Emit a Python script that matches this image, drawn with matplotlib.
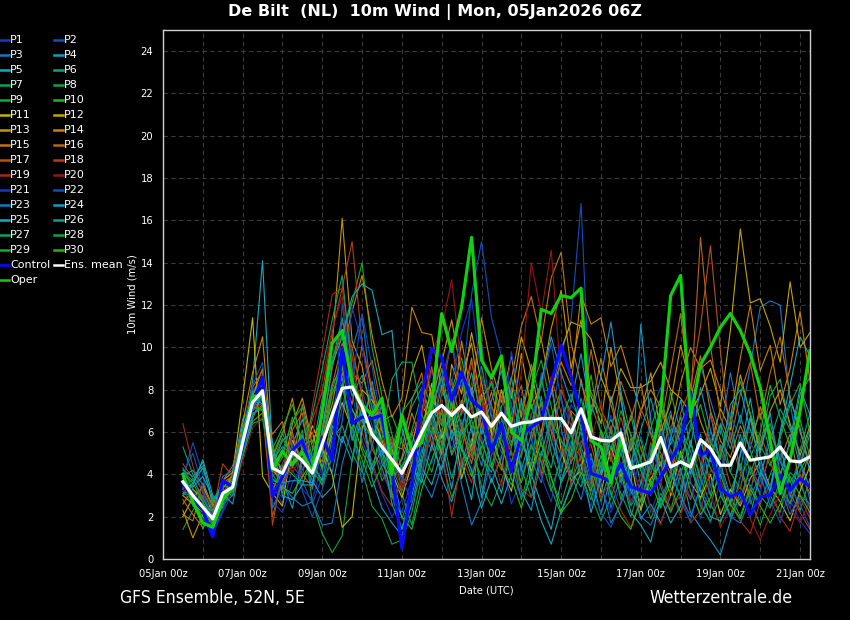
import matplotlib
matplotlib.use("Agg")
import matplotlib.pyplot as plt
from matplotlib.lines import Line2D
from matplotlib import font_manager as fm
import numpy as np

# ---------------- data ----------------
hours = list(range(12, 391, 6))  # hours after 05Jan 00z (64 steps)
tick_hours = list(range(0, 385, 48))
tick_labels = ["05Jan 00z", "07Jan 00z", "09Jan 00z", "11Jan 00z", "13Jan 00z",
               "15Jan 00z", "17Jan 00z", "19Jan 00z", "21Jan 00z"]

P1 = [3.2,2.6,2.0,1.0,2.8,3.0,5.9,7.6, 7.2,3.5,2.6,4.2,3.3,2.8,4.5,6.1, 9.2,7.8,5.6,4.4,3.1,2.0,2.8,4.6, 6.8,8.9,7.4,5.2,6.6,4.0,5.8,3.7, 4.9,2.6,3.8,5.5,7.1,6.0,4.3,5.6, 3.7,2.5,4.4,6.8,5.1,3.0,4.9,2.2, 3.5,5.8,4.1,2.9,4.4,6.0,3.3,1.9, 2.7,4.3,3.1,5.2,3.6,2.4,3.9,2.0]
P2 = [3.8,5.5,4.0,1.6,2.5,3.7,6.3,8.0, 8.4,3.9,4.5,5.8,3.7,2.6,3.9,5.2, 7.1,9.6,8.0,6.3,4.9,5.8,3.6,4.2, 5.5,7.8,9.4,7.1,5.9,8.3,10.2,6.6, 5.0,7.4,3.9,5.1,8.8,6.2,9.7,11.3, 16.8,6.4,4.7,3.0,5.8,2.6,3.6,6.9, 8.1,5.0,3.4,4.9,2.7,1.7,3.8,6.0, 4.4,2.6,3.7,6.1,4.8,3.0,5.2,4.3]
P3 = [3.4,3.0,2.6,2.1,3.3,3.1,5.0,7.1, 8.0,4.6,3.1,4.8,5.6,3.3,5.2,4.1, 6.5,9.9,11.5,7.6,5.0,4.3,1.9,3.3, 5.8,6.4,4.9,6.9,8.5,6.0,4.4,7.2, 6.3,8.1,5.4,4.7,3.6,5.9,7.7,4.8, 6.0,3.7,5.3,2.4,3.9,5.5,4.2,3.0, 5.6,7.0,4.5,6.3,9.2,7.5,5.9,8.8, 6.4,9.1,11.9,12.2,12.0,7.4,4.6,2.8]
P4 = [3.9,4.2,3.5,2.3,2.7,4.1,6.6,7.3, 7.7,4.9,3.7,2.4,4.8,3.7,2.9,3.4, 5.8,4.6,6.9,3.8,2.4,1.7,1.1,2.6, 4.7,5.9,3.8,2.7,4.4,6.3,2.9,5.6, 8.0,6.5,3.2,2.3,4.9,6.8,3.6,4.6, 5.3,4.0,2.1,3.9,6.2,3.5,1.9,2.6, 1.7,3.0,4.3,2.2,1.5,0.9,0.2,1.8, 3.2,2.0,4.1,3.4,5.6,2.9,4.7,3.3]
P5 = [3.1,3.6,4.3,2.8,2.4,3.5,5.6,8.4, 14.1,5.0,4.2,5.4,6.6,4.5,3.7,6.3, 5.5,7.1,6.0,8.4,6.1,3.9,4.7,6.0, 4.3,3.5,5.1,7.4,4.6,2.8,6.4,4.5, 3.1,5.3,7.6,4.0,2.6,1.4,3.7,5.0, 8.5,6.1,4.0,7.7,5.5,3.2,2.4,4.8, 6.6,4.2,2.9,5.5,3.7,6.9,4.4,2.5, 5.0,7.6,4.8,3.1,6.0,8.2,10.5,9.6]
P6 = [4.1,3.7,4.6,2.5,3.1,3.8,4.9,6.9, 7.1,4.4,5.6,6.0,4.2,5.1,7.6,9.3, 11.4,8.7,6.5,7.9,5.3,3.5,5.8,7.2, 8.1,6.7,9.0,6.3,7.5,5.1,6.8,8.4, 7.0,5.5,6.9,9.2,7.3,5.6,4.1,6.4, 5.2,7.3,6.0,4.7,7.9,5.8,3.5,4.9, 7.2,5.4,6.7,4.0,5.9,3.4,5.0,6.5, 4.2,6.6,5.3,7.7,8.5,6.2,4.4,5.9]
P7 = [5.3,4.0,3.2,2.2,2.9,3.4,5.4,7.0, 7.6,4.0,3.3,5.0,5.9,4.2,3.5,5.7, 6.3,5.0,4.1,6.2,4.8,3.0,1.4,3.4, 5.2,4.1,6.0,3.8,5.6,7.4,5.0,3.6, 4.8,6.7,4.3,2.9,5.1,3.8,2.6,4.2, 3.4,5.0,2.7,4.4,3.1,2.0,3.6,5.2, 2.5,3.9,6.2,5.1,3.3,2.4,4.5,3.0, 2.0,3.5,2.6,4.0,5.2,3.7,2.3,3.8]
P8 = [1.4,2.3,3.0,2.6,3.5,3.2,5.3,7.2, 7.8,4.6,5.7,4.8,6.1,2.7,1.2,0.3, 1.1,4.7,7.4,5.5,3.7,4.4,3.1,1.6, 3.9,6.2,4.7,2.9,4.2,5.7,3.4,2.5, 3.7,5.1,2.8,4.6,6.1,3.3,2.1,3.6, 4.9,3.0,1.8,2.9,4.3,2.5,3.3,1.9, 3.1,2.3,4.0,5.6,3.8,2.6,1.7,3.2, 4.5,2.8,1.6,3.0,2.2,4.1,3.6,2.4]
P9 = [4.3,3.3,2.7,1.7,3.0,3.6,5.8,7.9, 8.2,4.1,4.8,6.7,5.5,3.9,6.8,9.5, 10.6,12.1,14.0,10.0,7.7,5.9,4.2,6.1, 7.8,6.0,8.2,6.6,5.1,7.6,9.1,6.8, 5.7,4.6,6.2,8.0,9.4,7.2,5.3,3.9, 6.3,8.7,5.9,3.8,5.0,6.8,4.6,3.5, 5.3,7.9,6.0,4.4,2.8,4.9,6.3,4.1, 3.3,5.7,6.9,5.0,3.9,5.5,6.6,4.8]
P10 = [3.5,2.7,2.0,1.5,2.6,3.0,4.8,6.5, 6.9,3.2,4.4,4.0,3.5,4.8,6.0,8.3, 9.0,6.6,5.1,4.0,6.5,6.8,5.5,4.7, 6.3,7.9,6.5,8.0,9.5,7.1,5.5,4.3, 6.4,5.0,3.6,5.4,4.0,6.6,8.0,6.9, 5.0,3.5,6.1,4.9,2.8,4.1,5.7,3.4, 4.6,3.4,2.2,3.8,5.5,4.3,3.5,2.0, 3.9,4.8,6.0,8.2,6.7,5.3,7.8,8.6]
P11 = [2.0,2.9,3.4,2.4,3.7,4.1,7.6,11.4, 3.9,3.1,2.5,5.6,4.6,6.3,5.2,4.0, 1.5,2.0,6.2,7.0,5.6,4.1,2.9,4.5, 5.9,8.3,5.7,7.0,3.8,5.4,7.8,5.9, 4.4,3.2,5.7,4.1,6.0,8.4,5.1,3.7, 4.2,6.5,3.1,5.3,3.9,4.6,2.3,3.8, 4.5,3.0,5.1,3.6,2.9,4.0,2.1,3.3, 2.5,3.8,4.6,3.4,2.7,1.8,3.2,4.4]
P12 = [3.0,2.6,2.2,1.6,3.4,3.8,5.2,7.3, 8.7,4.2,3.7,4.6,5.1,6.0,4.3,5.9, 7.4,6.1,8.0,7.5,6.8,5.2,3.9,5.4, 7.3,6.4,5.0,9.2,7.8,10.7,8.3,6.0, 9.4,7.6,10.5,8.9,6.5,7.8,9.9,11.2, 11.0,10.4,8.6,7.4,9.0,8.1,8.1,8.4, 9.3,8.0,7.6,6.9,7.8,9.0,7.2,10.8, 15.6,12.1,12.3,11.0,9.3,13.1,10.0,10.7]
P13 = [2.3,1.0,2.1,2.7,3.6,3.9,5.7,7.7, 9.0,5.2,4.0,6.4,7.6,5.5,6.7,10.1, 16.1,10.3,9.1,6.6,7.2,4.9,6.7,8.8, 10.1,7.5,9.3,11.3,8.7,10.2,7.0,5.6, 8.0,6.2,9.7,7.1,8.3,10.9,12.7,9.0, 11.3,7.7,6.4,10.0,7.5,5.1,6.9,8.8, 6.0,7.4,10.1,8.2,6.5,5.3,7.1,6.1, 8.7,6.8,5.1,7.0,8.0,6.4,4.9,6.3]
P14 = [2.6,3.3,2.9,1.9,2.8,3.6,6.4,8.8, 10.5,4.8,5.9,7.6,5.0,4.4,5.8,7.3, 9.8,11.7,13.4,10.6,8.4,6.7,7.6,11.9, 10.7,10.6,8.0,6.8,10.3,7.7,11.4,9.0, 7.4,9.6,6.7,8.8,10.4,7.9,9.3,8.2, 12.5,11.1,11.4,9.1,10.1,8.5,7.0,8.0, 7.2,6.0,8.3,10.0,9.0,9.4,8.0,6.6, 9.5,12.0,8.9,10.1,7.3,9.0,11.7,8.4]
P15 = [2.1,1.8,3.6,2.5,3.3,4.0,5.1,6.8, 7.3,5.9,6.5,4.3,7.3,5.3,4.6,6.5, 8.8,7.3,10.1,7.9,6.0,3.7,4.8,6.9, 5.5,7.1,8.6,5.9,7.3,9.5,6.2,7.9, 6.1,8.5,11.0,12.4,10.3,13.3,14.5,10.2, 8.3,6.9,9.5,7.3,5.6,6.6,8.3,5.9, 4.4,6.8,5.5,7.6,9.6,7.0,5.6,4.8, 6.3,5.2,7.2,6.0,4.7,5.9,3.5,5.2]
P16 = [2.8,2.1,1.5,2.0,3.7,4.4,6.0,8.1, 8.9,3.6,3.3,6.1,6.9,4.0,5.6,8.2, 10.2,8.8,8.3,9.4,7.1,5.4,5.2,7.5, 8.8,5.3,7.1,5.0,6.2,4.5,7.1,5.2, 4.2,6.9,8.2,5.6,7.4,6.1,4.9,7.0, 6.5,9.9,7.1,6.0,8.4,7.0,5.2,4.0, 6.3,8.9,11.6,7.4,15.2,10.1,6.7,5.5, 7.8,9.3,6.6,8.8,10.5,7.7,6.0,4.5]
P17 = [3.6,3.1,2.4,1.8,3.0,3.3,5.3,7.5, 7.0,2.0,3.8,5.3,4.0,3.4,6.2,9.0, 11.2,10.0,7.7,5.2,4.3,2.9,3.5,5.9, 7.0,9.1,6.3,8.5,6.1,4.8,8.6,7.3, 5.3,4.1,6.4,7.9,5.8,8.6,6.9,4.5, 7.0,5.4,3.7,6.3,4.4,5.3,7.1,6.0, 5.0,4.0,6.9,8.1,11.0,14.8,9.8,5.6, 4.1,3.0,5.9,4.6,3.3,2.6,4.0,3.1]
P18 = [4.5,3.8,2.8,2.2,4.5,3.9,5.8,7.8, 8.3,1.6,4.2,5.9,4.5,6.6,7.9,10.7, 12.8,15.0,10.2,8.1,6.4,5.6,3.2,4.8, 6.2,5.1,7.8,10.4,6.8,9.3,7.5,5.5, 7.7,5.9,4.8,6.9,3.9,5.4,8.0,6.7, 4.6,3.3,5.8,4.6,6.7,4.8,3.0,5.5, 3.9,5.2,3.8,2.8,4.2,6.8,5.2,3.5, 2.6,4.4,3.4,5.0,4.1,3.1,2.2,1.4]
P19 = [6.4,4.4,3.1,1.9,3.2,3.5,5.6,7.0, 7.4,4.5,3.5,4.4,3.8,7.2,9.8,12.5, 12.8,9.6,6.0,4.6,3.2,2.5,3.8,5.2, 4.1,6.6,5.4,2.0,4.8,3.6,6.0,8.8, 6.0,5.1,3.3,2.9,4.4,6.4,5.7,3.5, 5.6,4.4,2.9,3.7,2.3,1.5,2.9,4.1, 3.6,2.4,3.0,1.7,2.3,4.2,3.7,2.6, 1.8,1.2,2.7,3.5,2.0,1.3,2.9,1.9]
P20 = [3.3,2.8,3.3,2.4,2.9,3.0,4.6,6.2, 6.7,4.0,5.0,4.1,4.9,5.8,8.5,10.9, 12.4,9.0,7.3,6.8,5.9,4.5,3.4,3.9, 6.6,9.7,10.9,13.2,9.0,6.9,8.0,5.3, 3.4,6.0,8.8,14.0,11.6,14.6,8.4,6.2, 4.0,5.6,7.4,5.0,3.7,2.7,4.0,2.4, 1.6,3.3,2.0,3.9,5.0,3.1,1.5,2.4, 3.5,1.9,0.9,2.1,3.1,2.4,1.7,2.8]
P21 = [3.7,3.2,2.5,1.2,2.2,3.2,5.5,7.4, 7.5,2.7,2.2,3.6,4.3,5.0,4.0,5.0, 7.9,11.9,10.2,7.0,4.0,3.2,2.2,3.8, 5.3,4.5,6.1,8.3,10.7,12.3,8.6,6.9, 5.6,9.8,7.1,5.8,3.9,2.7,5.1,7.3, 6.6,4.6,3.4,2.2,3.5,4.7,3.1,5.3, 4.0,6.3,5.4,3.7,1.9,3.5,4.2,2.9, 3.8,5.5,4.6,3.2,5.0,2.8,1.8,1.2]
P22 = [4.0,5.0,3.4,1.3,2.3,3.9,6.0,8.2, 9.3,3.4,2.9,5.5,3.2,2.0,3.3,4.8, 12.1,8.3,11.6,9.1,6.3,4.6,3.8,2.7, 4.0,6.2,8.5,10.3,8.0,12.5,15.0,11.4, 9.6,7.2,5.0,6.8,8.1,10.2,7.5,6.3, 5.3,3.4,2.2,1.5,2.7,4.0,5.8,4.2, 6.0,4.7,2.7,1.8,3.6,5.7,3.9,6.9, 5.6,3.3,4.5,2.8,1.7,3.4,2.6,1.5]
P23 = [3.3,3.8,2.9,2.0,3.9,4.2,5.7,7.0, 8.1,2.4,3.5,2.9,2.5,2.7,1.6,1.7, 4.5,6.2,3.6,5.3,7.4,5.0,3.9,5.6, 3.8,2.9,4.4,6.0,3.5,1.6,2.7,4.9, 6.5,4.3,2.9,3.8,5.6,8.0,6.2,4.0, 2.8,4.8,3.6,1.7,2.6,3.8,2.0,1.6, 2.8,4.0,3.0,2.0,3.4,4.8,3.1,2.0, 1.7,2.9,4.0,2.5,3.4,2.1,3.0,2.6]
P24 = [3.6,3.4,3.9,2.9,3.1,2.6,5.1,6.6, 7.9,3.7,3.6,3.7,3.7,3.6,5.4,7.0, 8.6,5.6,7.1,4.2,5.2,2.6,1.4,3.0, 4.9,7.0,5.5,3.3,6.2,8.1,5.9,7.5, 8.9,6.4,4.2,5.9,8.4,10.5,8.8,7.4, 9.7,6.8,8.6,11.2,7.9,3.3,11.1,6.5, 3.7,5.7,7.5,5.3,8.1,6.1,4.7,7.3, 8.0,6.1,5.0,6.9,4.0,5.6,8.1,6.8]
P25 = [3.0,3.5,4.7,3.0,2.7,3.6,5.4,7.8, 8.5,5.5,3.0,2.8,3.5,3.5,6.0,9.2, 10.5,12.4,13.0,12.7,10.6,10.8,6.2,4.4, 3.6,5.4,4.2,6.1,5.3,4.2,2.4,3.8, 2.6,4.0,6.3,3.4,1.8,0.7,2.3,3.4, 4.5,2.2,3.9,5.8,4.1,2.2,1.6,0.8, 2.9,1.7,2.5,4.3,3.2,2.0,1.8,2.7, 4.9,6.7,4.2,3.2,5.9,7.5,6.2,4.1]
P26 = [4.2,3.9,4.4,2.7,3.4,3.7,6.1,7.7, 7.3,4.7,5.3,5.0,5.8,4.4,4.9,8.0, 9.5,7.7,8.7,7.2,4.5,3.8,4.4,5.0, 6.0,7.3,8.6,5.6,7.0,8.8,6.7,5.1, 7.2,8.6,6.0,7.3,5.4,4.3,6.6,7.8, 6.2,4.1,5.6,6.6,5.4,4.5,6.1,7.6, 5.7,4.6,6.4,7.5,5.0,4.6,6.4,5.2, 6.8,5.1,3.9,5.6,7.1,6.1,5.1,6.9]
P27 = [3.9,2.5,2.4,2.3,3.2,3.0,5.2,6.8, 7.2,4.9,6.0,4.5,5.2,6.8,9.0,11.3, 13.4,8.9,5.3,4.4,5.7,8.5,9.3,9.3, 6.8,5.9,6.9,4.9,5.9,6.6,4.8,4.1, 5.9,7.9,5.5,4.4,7.7,5.0,3.6,5.4, 7.6,5.7,4.3,6.1,3.6,5.7,4.2,3.2, 4.9,3.5,5.7,6.6,4.5,3.0,5.4,4.1, 5.9,4.0,5.5,6.4,4.6,3.6,4.5,6.2]
P28 = [3.1,3.0,1.4,2.8,3.5,3.3,4.9,6.4, 6.6,4.4,5.1,6.5,7.2,4.7,3.5,4.9, 8.1,6.4,4.2,2.5,1.9,0.7,0.9,2.2, 4.5,6.8,5.1,7.6,6.4,5.0,3.9,5.7, 4.4,3.5,5.0,6.5,4.6,3.2,4.8,5.9, 3.9,2.8,4.6,3.4,5.0,3.6,2.7,4.5, 3.4,2.2,3.3,4.8,2.5,1.8,3.0,2.1, 2.9,4.3,3.0,2.4,3.7,2.6,4.2,5.0]
P29 = [4.0,3.6,2.7,1.8,3.0,3.4,5.6,7.2, 7.0,5.2,6.2,7.3,5.4,5.6,4.2,6.6, 8.3,5.8,4.7,3.4,4.4,5.2,6.9,7.6, 8.4,7.2,6.3,7.9,8.9,6.1,7.6,8.3, 6.6,5.3,7.4,6.2,8.5,6.4,5.6,4.9, 6.7,7.9,6.8,5.2,7.0,5.9,4.7,6.2, 7.6,5.9,4.8,6.1,7.3,5.5,4.8,6.5, 8.4,6.9,5.4,4.4,5.7,7.3,8.3,6.0]
P30 = [3.8,2.9,2.3,1.7,2.9,3.2,5.4,7.6, 8.0,3.8,3.4,3.1,3.9,4.6,5.6,7.8, 9.1,7.0,6.5,5.7,6.9,3.1,2.0,1.4, 3.3,4.7,6.0,7.9,5.2,3.9,5.3,6.5, 5.4,3.8,2.4,4.1,5.5,3.9,2.2,2.8, 4.1,3.2,4.9,3.1,2.0,1.4,2.8,3.7, 2.4,3.6,5.0,3.2,2.1,2.9,4.0,2.6, 1.9,3.3,2.5,1.7,2.6,3.9,3.0,2.2]

control = [3.57,2.8,2.3,1.05,3.73,3.4,5.3,7.34, 8.6,2.94,3.88,5.14,5.61,4.04,5.77,4.67, 10.0,6.4,6.71,6.64,6.79,4.2,0.5,3.57, 7.8,9.94,9.54,7.5,8.84,7.5,7.1,5.06, 6.4,4.12,5.85,6.24,6.56,8.29,10.1,8.6, 6.87,4.04,3.88,3.65,4.51,3.41,3.25,3.1, 3.88,4.67,5.46,7.89,4.9,5.14,3.33,2.94, 3.17,2.08,2.94,3.02,3.96,3.25,3.8,3.41]
oper = [4.0,2.7,1.7,1.5,2.8,3.4,5.6,7.7, 7.7,4.2,5.1,4.45,5.05,4.1,7.0,10.2, 10.8,8.3,7.3,6.8,7.6,4.0,6.8,5.15, 5.5,7.4,11.6,9.8,11.9,15.2,9.4,8.55, 9.6,6.0,5.6,7.65,11.8,11.6,12.45,12.35, 12.8,5.6,5.3,3.6,5.6,4.4,4.35,4.7, 7.0,12.45,13.4,6.7,9.2,10.0,10.95,11.6, 10.8,9.7,8.1,5.6,3.1,4.7,7.0,9.85]
ens_mean = [3.65,3.0,2.45,1.9,3.1,3.4,5.5,7.4, 7.95,4.3,4.05,5.05,4.65,4.05,5.45,6.8, 8.07,8.13,7.2,5.9,5.3,4.7,4.05,5.0, 6.0,6.9,7.26,6.79,7.26,6.71,6.95,6.27, 6.89,6.27,6.43,6.48,6.64,6.64,6.64,5.96, 7.1,5.77,5.61,5.58,5.96,4.28,4.43,4.59, 5.74,4.35,4.59,4.35,5.64,5.22,4.43,4.43, 5.49,4.67,4.75,4.83,5.3,4.64,4.59,4.83]

members = [P1, P2, P3, P4, P5, P6, P7, P8, P9, P10, P11, P12, P13, P14, P15,
           P16, P17, P18, P19, P20, P21, P22, P23, P24, P25, P26, P27, P28, P29, P30]
member_names = ["P%d" % (k + 1) for k in range(30)]
palette = ["#1438c8", "#1050b8", "#1478c4", "#1498cc", "#14a8bc", "#10a088",
           "#10a060", "#10a048", "#14ac28", "#20b810", "#bcb800", "#c4a400",
           "#c89400", "#c88400", "#c07414", "#bc6414", "#b85014", "#b43c1c",
           "#a82818", "#981414"]

# ---------------- fonts ----------------
def pick_condensed():
    for f in fm.fontManager.ttflist:
        if f.name == "DejaVu Sans" and "ondensed" in str(f.stretch) + f.fname:
            return {"family": "DejaVu Sans", "stretch": "condensed"}
    names = {f.name for f in fm.fontManager.ttflist}
    if "Liberation Sans Narrow" in names:
        return {"family": "Liberation Sans Narrow"}
    return {"family": "DejaVu Sans"}

cond = pick_condensed()

# ---------------- figure ----------------
fig = plt.figure(figsize=(8.5, 6.2), dpi=100, facecolor="black")
ax = fig.add_axes([163 / 850, 1 - 559 / 620, 647 / 850, 529 / 620])
ax.set_facecolor("black")

for k, vals in enumerate(members):
    ax.plot(hours, vals, color=palette[k % 20], lw=0.8, zorder=2)
ax.plot(hours, control, color="#0a0aff", lw=2.3, zorder=3)
ax.plot(hours, oper, color="#10d010", lw=2.3, zorder=4)
ax.plot(hours, ens_mean, color="white", lw=2.3, zorder=5)

ax.set_xlim(0, 390)
ax.set_ylim(0, 25)
ax.set_xticks(tick_hours)
ax.set_xticklabels(tick_labels, **cond)
ax.set_xticks(range(24, 390, 48), minor=True)
ax.set_yticks(range(0, 25, 2))
for lab in ax.get_yticklabels():
    lab.set_fontproperties(fm.FontProperties(size=8, **cond))
ax.tick_params(axis="both", which="both", colors="white", labelsize=8, length=0)
ax.tick_params(axis="x", which="major", pad=7)
ax.tick_params(axis="y", which="major", pad=7)
ax.grid(True, which="both", color="#3c3c3c", ls=(0, (4, 3)), lw=0.8, zorder=0)
for s in ax.spines.values():
    s.set_color("#d0d0d0")
    s.set_linewidth(1.0)

ax.set_ylabel("10m Wind (m/s)", color="white", fontsize=8, labelpad=2.5, **cond)
ax.set_xlabel("Date (UTC)", color="white", fontsize=8, labelpad=5, **cond)

fig.text(0.512, 0.981, "De Bilt  (NL)  10m Wind | Mon, 05Jan2026 06Z",
         color="white", fontsize=11.5, fontweight="bold", ha="center", va="center")
fig.text(120 / 850, 1 - 598 / 620, "GFS Ensemble, 52N, 5E", color="white",
         fontsize=12.6, ha="left", va="center", **cond)
fig.text(721 / 850, 1 - 598 / 620, "Wetterzentrale.de", color="white",
         fontsize=12.7, ha="center", va="center", **cond)

# ---------------- legend (two columns, row-major) ----------------
entries = [(n, palette[k % 20]) for k, n in enumerate(member_names)]
entries += [("Control", "#0a0aff"), ("Ens. mean", "white"), ("Oper", "#10d010")]
for idx, (name, col) in enumerate(entries):
    row, c = divmod(idx, 2)
    y = 1 - (40 + 15 * row) / 620
    x0 = (0 if c == 0 else 54) / 850
    fig.add_artist(Line2D([x0, x0 + 9 / 850], [y, y], transform=fig.transFigure,
                          color=col, lw=1.8))
    fig.text(x0 + 10 / 850, y, name, color="white", fontsize=8, ha="left",
             va="center", family="DejaVu Sans")

fig.savefig("out.png", dpi=100, facecolor="black")
